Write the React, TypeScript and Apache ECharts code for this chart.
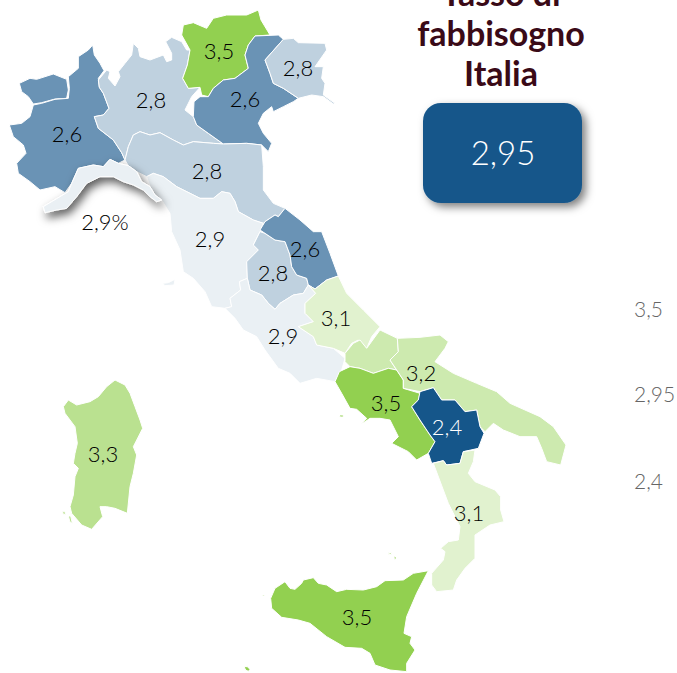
import React, { useEffect, useRef } from "react";
import * as echarts from "echarts";

const regionNames = ["Valle d'Aosta","Piemonte","Lombardia","Trentino-Alto Adige","Veneto","Friuli-Venezia Giulia","Emilia-Romagna","Toscana","Umbria","Marche","Lazio","Abruzzo","Molise","Campania","Puglia","Basilicata","Calabria","Sicilia","Sardegna","Liguria"];
const regionValues = [2.6,2.6,2.8,3.5,2.6,2.8,2.8,2.9,2.8,2.6,2.9,3.1,3.2,3.5,3.2,2.4,3.1,3.5,3.3,2.9];
const regionLabels = ["","2,6","2,8","3,5","2,6","2,8","2,8","2,9","2,8","2,6","2,9","3,1","","3,5","3,2","2,4","3,1","3,5","3,3","2,9%"];
const titleLines = ["Tasso di", "fabbisogno", "Italia"];
const nationalValue = "2,95";
const scaleLabels = ["3,5", "2,95", "2,4"];
const scaleMin = 2.4;
const scaleMax = 3.5;

const Z1: [number, number] = [0, 0];
const Z2: [number, number] = [150, 190];
const Z3: [number, number] = [320, 320];
const Z4: [number, number] = [230, 540];
const Z5: [number, number] = [40, 370];
const Z8: [number, number] = [410, 480];

const ring = (...segs: Array<[[number, number], number[]]>) => {
  const out: number[][] = [];
  segs.forEach(([o, f]) => {
    for (let i = 0; i < f.length; i += 2) out.push([o[0] + f[i] / 3, o[1] + f[i + 1] / 3]);
  });
  out.push(out[0]);
  return out;
};

const outlines: Record<string, number[][][]> = {
  "Valle d'Aosta": [ring([Z1, [58,250,90,235,110,238,160,222,200,238,205,270,200,295,165,297,125,308,100,312,85,290,65,275]])],
  Piemonte: [ring([Z1, [278,135,283,165,300,190,312,212,295,235,298,262,310,280,327,325,310,345,283,350,295,385,340,420,365,458,375,480,355,490,330,478,310,500,280,495,235,505,215,550,195,578,165,560,120,570,90,545,55,520,50,490,78,460,70,435,40,410,28,375,65,370,90,350,100,315,125,310,165,298,205,295,208,265,205,230,235,205,235,170,265,150]])],
  Lombardia: [ring([Z1, [400,130,415,145,420,170,450,180,490,165,500,185,515,180,515,160,497,125,515,112,545,125,560,150,570,150,562,195,548,235,565,265,600,262,575,290,555,330,580,350,590,375,625,400,670,432,640,430,580,425,550,435,520,420,480,398,450,405,420,395,400,405,385,440,375,480,365,458,340,420,295,385,283,350,310,345,327,325,310,280,298,262,295,240,320,210,330,215,325,235,345,258,360,230,355,215,375,190,395,165]])],
  "Trentino-Alto Adige": [ring([Z1, [775,30,783,60,810,105,765,108,745,135,735,165,745,205,705,235,670,240,640,265,625,290,605,285,600,262,565,265,548,235,562,195,570,150,545,105,550,75,580,68,620,85,640,55,680,45,740,45]])],
  Veneto: [ring([Z1, [765,108,835,105,850,118,835,135,795,180,810,220,820,250,850,265,895,295,880,305,850,320,820,335,815,320,790,340,775,370,790,400,815,430,805,455,785,435,740,430,670,432,625,400,590,375,580,350,582,305,600,290,625,290,640,265,670,240,705,235,745,205,735,165,745,135]])],
  "Friuli-Venezia Giulia": [ring([Z1, [850,118,880,115,895,128,975,130,980,150,945,200,970,200,965,235,975,250,970,285,1005,310,1000,312,970,290,935,285,895,295,850,265,820,250,810,220,795,180,835,135]])],
  "Emilia-Romagna": [ring([Z1, [400,405,420,395,450,405,480,398,520,420,550,435,580,425,640,430,670,432,740,430,785,435,790,500,790,570,820,610]], [Z2, [405,55,385,80,375,75,345,95,340,100]], [Z1, [790,670,760,660,715,635,705,605,690,580,665,575,640,595,600,595,570,580,530,560,490,530,460,520,440,530,410,515,385,497,375,480,385,440]])],
  Toscana: [
    ring([Z1, [440,530,460,520,490,530,530,560,570,580,600,595,640,595,665,575,690,580,705,605,715,635,760,660,790,670]], [Z2, [330,125,310,165,325,180,290,215,292,265,268,275,272,300,240,325,245,350,225,355,185,350,165,305,130,265,100,245,90,180,65,125,60,70]], [Z1, [485,600,465,585,450,560]]),
    ring([Z2, [38,280,55,278,75,268,72,285,45,287]]),
  ],
  Umbria: [ring([Z2, [330,125,345,130,375,150,405,155,420,195,425,230,440,255,470,265,475,285,460,310,430,315,390,340,375,358,355,340,335,315,300,300,292,265,290,215,325,180,310,165]])],
  Marche: [ring([Z2, [345,95,375,75,385,80,405,55,450,90,490,125,515,125,540,190,565,258,530,270,495,297,475,285,470,265,440,255,425,230,420,195,405,155,375,150,345,130,330,120]])],
  Lazio: [ring([Z2, [240,325,272,300,268,275,292,265,300,300,335,315,355,340,375,358,390,340,430,315,460,310,475,285,497,310,465,340,465,370,490,395,445,410,490,440,500,465,550,475,585,505,575,540,555,575,500,565,450,580,420,550,385,535,345,480,320,440,280,420,255,385,225,355,245,350]])],
  Abruzzo: [ring([Z2, [497,310,475,285,495,297,530,270,565,258,590,310,640,360,690,410,665,440,650,475,625,450,605,460,585,490,550,475,500,465,490,440,445,410,490,395,465,370,465,340]])],
  Molise: [ring([Z3, [180,30,232,55,235,95,210,120,230,150,205,145,160,160,120,145,90,140,75,125,75,100,100,70,120,60,140,85]])],
  Campania: [
    ring([Z3, [45,185,58,155,90,140,120,145,160,160,205,145,230,150,250,180,250,205,300,220,295,240,275,260,300,300,330,345,345,365,325,400,290,420,265,395,225,375,215,370,235,350,210,300,180,295,150,295,125,312,140,295,110,268,90,265,65,220]]),
    ring([Z3, [58,285,70,285,70,291,60,291]]),
  ],
  Puglia: [ring([Z3, [232,55,300,52,360,45,385,65,375,85,345,125,400,160,470,190,530,215,570,250,615,270,660,290,700,320,738,375,722,435,680,425,665,385,650,350,600,350,550,330,520,310,495,335,480,320,470,270,435,275,405,240,365,240,340,203,300,215,250,205,250,180,230,150,210,120,235,95]])],
  Basilicata: [ring([Z3, [300,215,340,203,365,240,405,240,435,275,470,270,480,320,492,340,475,385,430,395,420,430,380,435,370,422,335,430,325,400,345,365,330,345,300,300,275,260,295,240]])],
  Calabria: [ring([Z3, [340,430,370,422,380,435,420,430,430,395,465,390,460,425,445,460]], [Z8, [195,5,255,30,272,50,272,90,282,125,240,135,195,165,195,235,165,265,140,300,130,330,80,335,65,315,65,280,100,240,105,215,92,205,115,185,145,180,150,140,135,110,115,70,100,30]])],
  Sicilia: [
    ring([Z4, [595,92,560,160,530,230,522,280,545,290,540,310,555,330,530,370,530,395,480,390,435,375,420,340,395,325,345,322,290,290,240,250,205,240,155,232,125,205,122,175,135,145,165,125,180,145,195,148,215,130,220,120,250,113,265,130,290,135,320,155,350,148,400,150,440,140,465,122,520,120,550,100]]),
    ring([Z4, [42,380,52,380,60,388,55,394,47,390]]),
    ring([Z4, [477,38,484,38,484,44,478,44]]),
    ring([Z4, [492,48,498,50,498,58,493,58]]),
    ring([Z4, [97,165,103,165,103,168,97,168]]),
    ring([Z3, [205,698,214,698,214,703,205,703]]),
  ],
  Sardegna: [
    ring([Z5, [225,30,255,45,270,70,285,110,300,150,308,175,280,230,290,255,280,310,270,350,262,430,225,415,200,410,180,410,188,440,155,478,125,465,95,430,90,410,100,375,105,320,115,295,100,280,105,250,112,220,105,170,75,130,70,110,85,90,110,105,150,95,175,80,200,50]]),
    ring([Z5, [68,424,75,424,76,434,69,432]]),
    ring([Z5, [85,438,92,438,97,460,90,456]]),
  ],
  Liguria: [ring([Z1, [330,478,355,490,385,497,410,515,425,545,450,560,465,585,485,600,470,605,450,590,430,570,400,555,370,545,340,530,300,530,260,550,230,590,200,625,170,630,135,638,130,620,180,590,205,575,215,550,235,505,280,495,310,500]])],
};

const labelPoints: Record<string, number[]> = {
  "Valle d'Aosta": [45, 90], Piemonte: [67, 135], Lombardia: [151, 101], "Trentino-Alto Adige": [219, 52],
  Veneto: [245, 100], "Friuli-Venezia Giulia": [298, 69], "Emilia-Romagna": [207, 172], Toscana: [210, 240],
  Umbria: [273, 274], Marche: [305, 250], Lazio: [283, 337], Abruzzo: [336, 319], Molise: [375, 355],
  Campania: [386, 404], Puglia: [421, 374], Basilicata: [447, 428], Calabria: [469, 514], Sicilia: [357, 618],
  Sardegna: [103, 455], Liguria: [105, 223],
};

const FONT = "Lato, 'Noto Sans', sans-serif";

export default function App() {
  const ref = useRef<HTMLDivElement>(null);
  useEffect(() => {
    const geo = {
      type: "FeatureCollection",
      features: regionNames.map((name) => ({
        type: "Feature",
        properties: { name, cp: labelPoints[name] },
        geometry: { type: "MultiPolygon", coordinates: outlines[name].map((r) => [r]) },
      })),
    };
    echarts.registerMap("italia", geo as any);
    const chart = echarts.init(ref.current!, undefined, { renderer: "svg" });
    chart.setOption({
      animation: false,
      backgroundColor: "#ffffff",
      visualMap: {
        show: false,
        type: "continuous",
        min: scaleMin,
        max: scaleMax,
        seriesIndex: 0,
        inRange: { color: ["#15568a", "#ffffff", "#92d050"] },
      },
      series: [
        {
          type: "map",
          map: "italia",
          silent: true,
          roam: false,
          selectedMode: false,
          projection: { project: (p: number[]) => p, unproject: (p: number[]) => p },
          boundingCoords: [[0, 0], [677, 673]],
          left: 0,
          top: 0,
          width: 677,
          height: 673,
          itemStyle: { borderColor: "#ffffff", borderWidth: 1 },
          label: {
            show: true,
            fontFamily: FONT,
            fontWeight: 300,
            fontSize: 22,
            color: "#000000",
            offset: [0, -2],
            formatter: (p: any) => regionLabels[regionNames.indexOf(p.name)],
          },
          data: regionNames.map((name, i) => ({
            name,
            value: regionValues[i],
            label: name === "Basilicata" ? { color: "#ffffff" } : undefined,
            itemStyle:
              name === "Liguria"
                ? { shadowBlur: 10, shadowOffsetX: 3, shadowOffsetY: 5, shadowColor: "rgba(0,0,0,0.65)" }
                : undefined,
          })),
        },
      ],
      graphic: [
        {
          type: "text",
          x: 501,
          y: -28,
          style: {
            text: titleLines.join("\n"),
            fontFamily: FONT,
            fontWeight: 700,
            fontSize: 34,
            lineHeight: 40,
            fill: "#3a0a17",
            align: "center",
            verticalAlign: "top",
          },
        },
        {
          type: "rect",
          x: 423,
          y: 103,
          shape: { width: 159, height: 100, r: 18 },
          style: { fill: "#15568a", shadowBlur: 8, shadowOffsetX: 4, shadowOffsetY: 4, shadowColor: "rgba(0,0,0,0.5)" },
        },
        {
          type: "text",
          x: 503,
          y: 152,
          style: { text: nationalValue, fontFamily: FONT, fontWeight: 300, fontSize: 33, fill: "#ffffff", align: "center", verticalAlign: "middle" },
        },
        ...scaleLabels.map((t, i) => ({
          type: "text",
          x: 634,
          y: [308, 393, 480][i],
          style: { text: t, fontFamily: FONT, fontWeight: 300, fontSize: 21, fill: "#666666", align: "left", verticalAlign: "middle" },
        })),
      ],
    });
    return () => chart.dispose();
  }, []);
  return <div ref={ref} style={{ position: "fixed", left: 0, top: 0, width: 677, height: 673 }} />;
}
